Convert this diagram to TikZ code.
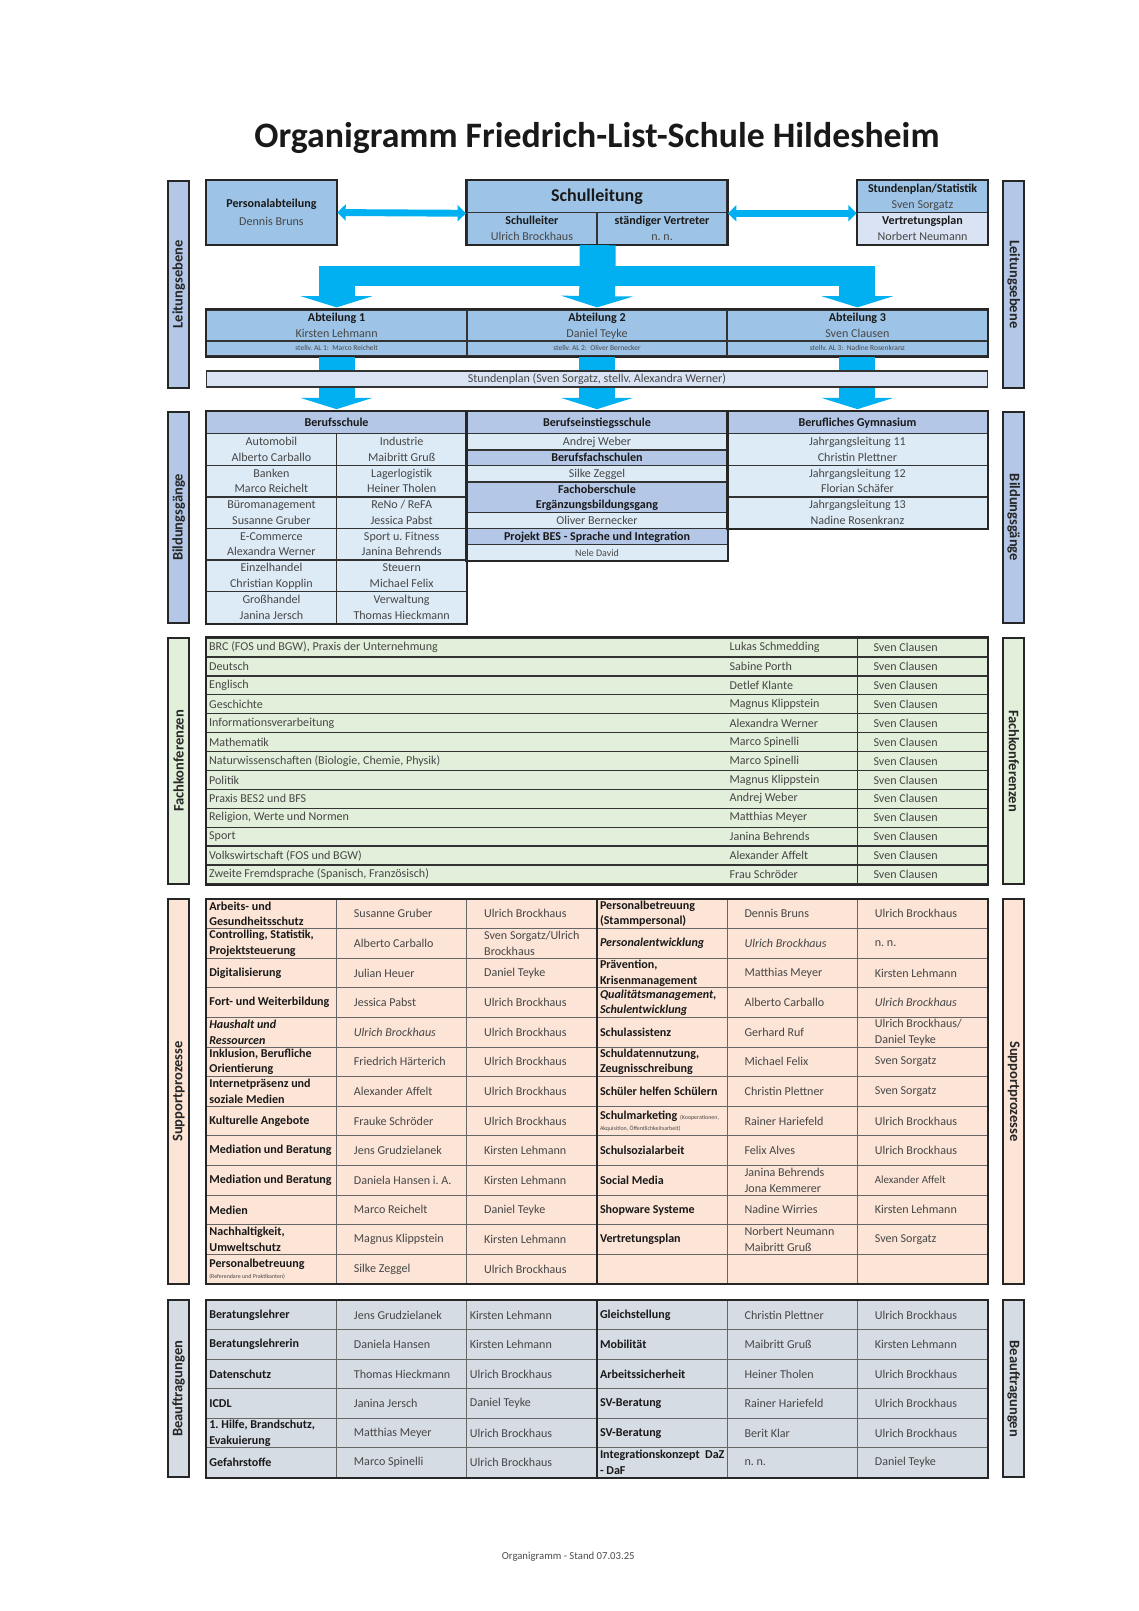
\documentclass[tikz,border=0pt]{standalone}
\usepackage{fontspec}
\setmainfont{Carlito}
\usetikzlibrary{arrows.meta}
\usetikzlibrary{calc}
\frenchspacing

\definecolor{boxblue}{HTML}{9DC3E6}
\definecolor{boxpale}{HTML}{DAE3F3}
\definecolor{lavender}{HTML}{B4C7E7}
\definecolor{cellblue}{HTML}{DDEBF7}
\definecolor{fkgreen}{HTML}{E2EFDA}
\definecolor{sppeach}{HTML}{FCE4D6}
\definecolor{bfgray}{HTML}{D6DCE4}
\definecolor{flowcyan}{HTML}{00B0F0}
\colorlet{ink}{black!72}
\colorlet{rule}{black!85}

\newcommand\px{0.5366pt}
\newcommand\fs{\fontsize{6.3}{8.2}\selectfont}
\newcommand\fsmall{\fontsize{3.9}{4.6}\selectfont}
\newcommand\fnote{\fontsize{3.1}{3.6}\selectfont}
\newcommand\fside{\fontsize{7.6}{9}\selectfont\bfseries}
\newcommand\kopf[1]{{\color{black!90}\bfseries #1}}
\newcommand\kopfit[1]{{\color{black!90}\bfseries\itshape #1}}

\tikzstyle{cellbox}=[draw=black!60,line width=.45pt,inner sep=0pt,font=\fs,text=ink,align=flush center]
\tikzstyle{celltext}=[inner sep=0pt,font=\fs,text=ink,align=flush left,anchor=west]
\tikzstyle{topline}=[draw=black!80,line width=.8pt]
\tikzstyle{bgline}=[draw=black!80,line width=.65pt]
\tikzstyle{fkline}=[draw=black!80,line width=.7pt]
\tikzstyle{frame}=[draw=rule,line width=1.05pt]
\tikzstyle{sidebox}=[draw=rule,line width=1.05pt,inner sep=0pt,font=\fside,text=black!85]
\tikzstyle{flowhead}=[-{Triangle[width=37.6pt,length=5.9pt]}]
\tikzstyle{flow}=[draw=flowcyan,line width=18.8pt,flowhead,shorten >=1pt]
\tikzstyle{flowbar}=[draw=flowcyan,line width=10.5pt]
\tikzstyle{dbl}=[draw=flowcyan,line width=3.6pt,{Triangle[width=8.4pt,length=4.4pt]}-{Triangle[width=8.4pt,length=4.4pt]}]

% centred cell: [opts]{name}{x1}{y1}{x2}{y2}{text}
\newcommand\cellc[7][]{%
  \pgfmathsetlengthmacro\cw{(#5-#3)*\px}%
  \pgfmathsetlengthmacro\ch{(#6-#4)*\px}%
  \node[cellbox,#1,minimum width=\cw,minimum height=\ch] (#2) at ({(#3+#5)/2},{(#4+#6)/2}) {\vphantom{Ä}#7\vphantom{g}};}
% left aligned cell: [opts]{name}{x1}{y1}{x2}{y2}{pad}{text}
\newcommand\cellt[8][]{%
  \pgfmathsetlengthmacro\cw{(#5-#3)*\px}%
  \pgfmathsetlengthmacro\ch{(#6-#4)*\px}%
  \pgfmathsetlengthmacro\tw{(#5-#3-#7-1)*\px}%
  \pgfmathsetlengthmacro\pd{#7*\px}%
  \node[cellbox,#1,minimum width=\cw,minimum height=\ch] (#2) at ({(#3+#5)/2},{(#4+#6)/2}) {};
  \node[celltext,text width=\tw] (#2-t) at ([xshift=\pd]#2.west) {#8};}
% one row of the two lower tables
\newcommand\tabrow[7]{%
  \pgfmathsetmacro\ya{\tabtop+#1*\tabh}\pgfmathsetmacro\yb{\ya+\tabh}%
  \cellt[fill=\tabfill]{\tabpre#1a}{201}{\ya}{327.8}{\yb}{3}{#2}
  \cellt[fill=\tabfill]{\tabpre#1b}{327.8}{\ya}{454.7}{\yb}{17}{#3}
  \cellt[fill=\tabfill]{\tabpre#1c}{454.7}{\ya}{581.5}{\yb}{\padc}{#4}
  \cellt[fill=\tabfill]{\tabpre#1d}{581.5}{\ya}{708.3}{\yb}{3}{#5}
  \cellt[fill=\tabfill]{\tabpre#1e}{708.3}{\ya}{835.2}{\yb}{17}{#6}
  \cellt[fill=\tabfill]{\tabpre#1f}{835.2}{\ya}{962}{\yb}{17}{#7}}

\begin{document}
\begin{tikzpicture}[x=\px,y=-\px]
\useasboundingbox (0,0) rectangle (1109.4,1569.2);
\node[font=\fontsize{18.7}{22}\selectfont\bfseries,text=black!90] (ttl) at (581.5,134) {Organigramm Friedrich-List-Schule Hildesheim};

% side labels
\foreach \nm/\ya/\yb/\col/\lbl in {le/176/378/lavender/Leitungsebene, bi/401/607/lavender/Bildungsgänge,
    fk/621.5/861/fkgreen/Fachkonferenzen, su/875.7/1250.5/sppeach/Supportprozesse, bf/1266.5/1439/bfgray/Beauftragungen}{
  \pgfmathsetlengthmacro\sw{(\yb-\ya)*\px}
  \node[sidebox,fill=\col,rotate=90,minimum width=\sw,minimum height=11pt] (\nm-l) at (174,{(\ya+\yb)/2}) {\lbl};
  \node[sidebox,fill=\col,rotate=-90,minimum width=\sw,minimum height=11pt] (\nm-r) at (987.5,{(\ya+\yb)/2}) {\lbl};
}

% Leitungsebene
\cellc[fill=boxblue,topline]{pa}{201}{176}{327.8}{238}{\kopf{Personalabteilung}\\[1.5pt]Dennis Bruns}
\cellc[fill=boxblue,topline]{sl}{454.7}{176}{708.3}{207}{\fontsize{9.4}{11}\selectfont\kopf{Schulleitung}}
\cellc[fill=boxblue,topline]{slA}{454.7}{207}{581.5}{238}{\kopf{Schulleiter}\\Ulrich Brockhaus}
\cellc[fill=boxblue,topline]{slB}{581.5}{207}{708.3}{238}{\kopf{ständiger Vertreter}\\n. n.}
\cellc[fill=boxblue,topline]{stat}{835.2}{176}{962}{207}{\kopf{Stundenplan/Statistik}\\Sven Sorgatz}
\cellc[fill=boxpale,topline]{vp}{835.2}{207}{962}{238}{\kopf{Vertretungsplan}\\Norbert Neumann}
\foreach \i/\xa/\xb/\who/\dep in {1/201/454.7/Kirsten Lehmann/Marco Reichelt,
    2/454.7/708.3/Daniel Teyke/Oliver Bernecker, 3/708.3/962/Sven Clausen/Nadine Rosenkranz}{
  \cellc[fill=boxblue,topline]{ab\i}{\xa}{302}{\xb}{332}{\kopf{Abteilung \i}\\\who}
  \cellc[fill=boxblue,topline,font=\fsmall]{st\i}{\xa}{332}{\xb}{346.5}{stellv. AL \i:~~\dep}
}
\draw[frame] (pa.north west) rectangle (pa.south east);
\draw[frame] (sl.north west) rectangle (slB.south east);
\draw[frame] (stat.north west) rectangle (vp.south east);
\draw[frame] (ab1.north west) rectangle (st3.south east);

% Bildungsgaenge
\cellc[fill=lavender,bgline]{bs}{201}{401}{454.7}{422.5}{\kopf{Berufsschule}}
\cellc[fill=lavender,bgline]{be}{454.7}{401}{708.3}{422.5}{\kopf{Berufseinstiegsschule}}
\cellc[fill=lavender,bgline]{bg}{708.3}{401}{962}{422.5}{\kopf{Berufliches Gymnasium}}
\foreach \lc/\rc [count=\i from 0] in {{Automobil\\Alberto Carballo}/{Industrie\\Maibritt Gruß},
    {Banken\\Marco Reichelt}/{Lagerlogistik\\Heiner Tholen},
    {Büromanagement\\Susanne Gruber}/{ReNo / ReFA\\Jessica Pabst},
    {E-Commerce\\Alexandra Werner}/{Sport u. Fitness\\Janina Behrends},
    {Einzelhandel\\Christian Kopplin}/{Steuern\\Michael Felix},
    {Großhandel\\Janina Jersch}/{Verwaltung\\Thomas Hieckmann}}{
  \pgfmathsetmacro\ya{422.5+\i*30.75}\pgfmathsetmacro\yb{\ya+30.75}
  \cellc[fill=cellblue,bgline]{bsl\i}{201}{\ya}{327.8}{\yb}{\lc}
  \cellc[fill=cellblue,bgline]{bsr\i}{327.8}{\ya}{454.7}{\yb}{\rc}
}
\foreach \ya/\yb/\col/\lbl [count=\i] in {422.5/438.2/cellblue/Andrej Weber,
    438.2/453.7/lavender/\kopf{Berufsfachschulen},
    453.7/469.6/cellblue/Silke Zeggel,
    469.6/499.2/lavender/{\kopf{Fachoberschule}\\\kopf{Ergänzungsbildungsgang}},
    499.2/515.1/cellblue/Oliver Bernecker,
    515.1/530.6/lavender/\kopf{Projekt BES - Sprache und Integration},
    530.6/546/cellblue/{\fontsize{5.2}{6}\selectfont Nele David}}{
  \cellc[fill=\col,bgline]{be\i}{454.7}{\ya}{708.3}{\yb}{\lbl}
}
\foreach \lbl [count=\i from 0] in {{Jahrgangsleitung 11\\Christin Plettner},
    {Jahrgangsleitung 12\\Florian Schäfer},{Jahrgangsleitung 13\\Nadine Rosenkranz}}{
  \pgfmathsetmacro\ya{422.5+\i*30.75}\pgfmathsetmacro\yb{\ya+30.75}
  \cellc[fill=cellblue,bgline]{bg\i}{708.3}{\ya}{962}{\yb}{\lbl}
}
\draw[frame] (bs.north west) rectangle (bsr5.south east);
\draw[frame] (be.north west) rectangle (be7.south east);
\draw[frame] (bg.north west) rectangle (bg2.south east);

% flow arrows
\coordinate (hub) at ($(slA.south east)+(0,29.8)$);
\draw[flowbar] ($(hub -| ab1.north)+(-17.5,0)$) -- ($(hub -| ab3.north)+(17.5,0)$);
\draw[flow] (slA.south east) -- (ab2.north);
\draw[flow] (hub -| ab1.north) -- (ab1.north);
\draw[flow] (hub -| ab3.north) -- (ab3.north);
\foreach \a/\b in {st1/bs,st2/be,st3/bg} \draw[flow] (\a.south) -- (\b.north);
\draw[dbl] (pa.east) -- (sl.south west);
\draw[dbl] (sl.south east) -- (stat.south west);
\cellc[fill=boxpale,topline]{plan}{201}{361.5}{962}{377}{Stundenplan (Sven Sorgatz, stellv. Alexandra Werner)}

% Fachkonferenzen
\foreach \fach/\wer [count=\i from 0] in {{BRC (FOS und BGW), Praxis der Unternehmung}/Lukas Schmedding,
    Deutsch/Sabine Porth, Englisch/Detlef Klante, Geschichte/Magnus Klippstein,
    Informationsverarbeitung/Alexandra Werner, Mathematik/Marco Spinelli,
    {Naturwissenschaften (Biologie, Chemie, Physik)}/Marco Spinelli, Politik/Magnus Klippstein,
    Praxis BES2 und BFS/Andrej Weber, {Religion, Werte und Normen}/Matthias Meyer,
    Sport/Janina Behrends, Volkswirtschaft (FOS und BGW)/Alexander Affelt,
    {Zweite Fremdsprache (Spanisch, Französisch)}/Frau Schröder}{
  \pgfmathsetmacro\ya{621.5+\i*18.42}\pgfmathsetmacro\yb{\ya+18.42}
  \cellt[fill=fkgreen,fkline]{fk-\i-a}{201}{\ya}{835.2}{\yb}{3}{\fach}
  \node[celltext,text width=60pt] (fk-\i-b) at ($(fk-\i-a.west)+(510,0)$) {\wer};
  \cellt[fill=fkgreen,fkline]{fk-\i-c}{835.2}{\ya}{962}{\yb}{16}{Sven Clausen}
}
\draw[frame] (fk-0-a.north west) rectangle (fk-12-c.south east);

% Supportprozesse
\def\tabpre{su}\def\tabtop{875.7}\def\tabh{28.83}\def\tabfill{sppeach}\def\padc{17}
\tabrow{0}{\kopf{Arbeits- und\\Gesundheitsschutz}}{Susanne Gruber}{Ulrich Brockhaus}{\kopf{Personalbetreuung\\(Stammpersonal)}}{Dennis Bruns}{Ulrich Brockhaus}
\tabrow{1}{\kopf{Controlling, Statistik,\\Projektsteuerung}}{Alberto Carballo}{Sven Sorgatz/Ulrich\\Brockhaus}{\kopfit{Personalentwicklung}}{\textit{Ulrich Brockhaus}}{n. n.}
\tabrow{2}{\kopf{Digitalisierung}}{Julian Heuer}{Daniel Teyke}{\kopf{Prävention,\\Krisenmanagement}}{Matthias Meyer}{Kirsten Lehmann}
\tabrow{3}{\kopf{Fort- und Weiterbildung}}{Jessica Pabst}{Ulrich Brockhaus}{\kopfit{Qualitätsmanagement,\\Schulentwicklung}}{Alberto Carballo}{\textit{Ulrich Brockhaus}}
\tabrow{4}{\kopfit{Haushalt und\\Ressourcen}}{\textit{Ulrich Brockhaus}}{Ulrich Brockhaus}{\kopf{Schulassistenz}}{Gerhard Ruf}{Ulrich Brockhaus/\\Daniel Teyke}
\tabrow{5}{\kopf{Inklusion, Berufliche\\Orientierung}}{Friedrich Härterich}{Ulrich Brockhaus}{\kopf{Schuldatennutzung,\\Zeugnisschreibung}}{Michael Felix}{Sven Sorgatz}
\tabrow{6}{\kopf{Internetpräsenz und\\soziale Medien}}{Alexander Affelt}{Ulrich Brockhaus}{\kopf{Schüler helfen Schülern}}{Christin Plettner}{Sven Sorgatz}
\tabrow{7}{\kopf{Kulturelle Angebote}}{Frauke Schröder}{Ulrich Brockhaus}{\kopf{Schulmarketing} {\fnote(Kooperationen,}\\[-2.7pt]{\fnote Akquisition, Öffentlichkeitsarbeit)}}{Rainer Hariefeld}{Ulrich Brockhaus}
\tabrow{8}{\kopf{Mediation und Beratung}}{Jens Grudzielanek}{Kirsten Lehmann}{\kopf{Schulsozialarbeit}}{Felix Alves}{Ulrich Brockhaus}
\tabrow{9}{\kopf{Mediation und Beratung}}{Daniela Hansen i. A.}{Kirsten Lehmann}{\kopf{Social Media}}{Janina Behrends\\Jona Kemmerer}{\fontsize{5.7}{7}\selectfont Alexander Affelt}
\tabrow{10}{\kopf{Medien}}{Marco Reichelt}{Daniel Teyke}{\kopf{Shopware Systeme}}{Nadine Wirries}{Kirsten Lehmann}
\tabrow{11}{\kopf{Nachhaltigkeit,\\Umweltschutz}}{Magnus Klippstein}{Kirsten Lehmann}{\kopf{Vertretungsplan}}{Norbert Neumann\\Maibritt Gruß}{Sven Sorgatz}
\tabrow{12}{\kopf{Personalbetreuung}\\[-2.7pt]{\fnote(Referendare und Praktikanten)}}{Silke Zeggel}{Ulrich Brockhaus}{}{}{}
\draw[frame] (su0a.north west) rectangle (su12f.south east);
\draw[frame] (su0d.north west) -- (su12d.south west);

% Beauftragungen
\def\tabpre{bf}\def\tabtop{1266.5}\def\tabh{28.75}\def\tabfill{bfgray}\def\padc{3}
\tabrow{0}{\kopf{Beratungslehrer}}{Jens Grudzielanek}{Kirsten Lehmann}{\kopf{Gleichstellung}}{Christin Plettner}{Ulrich Brockhaus}
\tabrow{1}{\kopf{Beratungslehrerin}}{Daniela Hansen}{Kirsten Lehmann}{\kopf{Mobilität}}{Maibritt Gruß}{Kirsten Lehmann}
\tabrow{2}{\kopf{Datenschutz}}{Thomas Hieckmann}{Ulrich Brockhaus}{\kopf{Arbeitssicherheit}}{Heiner Tholen}{Ulrich Brockhaus}
\tabrow{3}{\kopf{ICDL}}{Janina Jersch}{Daniel Teyke}{\kopf{SV-Beratung}}{Rainer Hariefeld}{Ulrich Brockhaus}
\tabrow{4}{\kopf{1. Hilfe, Brandschutz,\\Evakuierung}}{Matthias Meyer}{Ulrich Brockhaus}{\kopf{SV-Beratung}}{Berit Klar}{Ulrich Brockhaus}
\tabrow{5}{\kopf{Gefahrstoffe}}{Marco Spinelli}{Ulrich Brockhaus}{\kopf{Integrationskonzept\ \ DaZ\\- DaF}}{n. n.}{Daniel Teyke}
\draw[frame] (bf0a.north west) rectangle (bf5f.south east);
\draw[frame] (bf0d.north west) -- (bf5d.south west);

\node[font=\fontsize{5.6}{7}\selectfont,text=black!70] (ftr) at (553.5,1516) {Organigramm - Stand 07.03.25};
\end{tikzpicture}
\end{document}
